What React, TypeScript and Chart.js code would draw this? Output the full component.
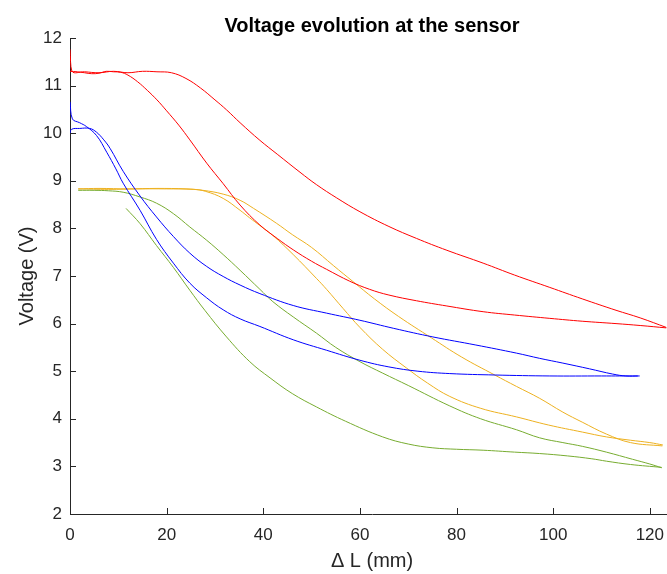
import React, { useEffect, useRef } from "react";
import { Chart, registerables } from "chart.js";

Chart.register(...registerables);

const TITLE = "Voltage evolution at the sensor";
const X_LABEL = "Δ L (mm)";
const Y_LABEL = "Voltage (V)";
const X_MIN = 0;
const X_MAX = 125;
const Y_MIN = 2;
const Y_MAX = 12;

const red1X = [0, 0.4, 3, 6, 9, 12, 15, 18, 21, 24, 27, 30, 32.4, 35.2, 39.3, 43, 47.6, 51, 55.2, 60, 66, 71.7, 78, 85.5, 92, 99.3, 106, 113, 118, 123.4];
const red1Y = [11.76, 11.3, 11.29, 11.27, 11.3, 11.27, 11.3, 11.29, 11.27, 11.15, 10.95, 10.7, 10.49, 10.22, 9.85, 9.55, 9.18, 8.92, 8.64, 8.35, 8.04, 7.79, 7.54, 7.27, 7.02, 6.76, 6.52, 6.28, 6.12, 5.92];

const red2X = [0, 1.5, 3, 4.5, 6, 7.5, 9, 10.5, 12, 14, 16, 18, 20, 22.5, 24.8, 28.3, 31.7, 35.2, 39.3, 43, 46.2, 50, 53.1, 57.9, 62, 66, 71.7, 78, 85.5, 92, 99.3, 106, 113, 118, 123.4];
const red2Y = [11.3, 11.29, 11.27, 11.25, 11.26, 11.3, 11.29, 11.28, 11.22, 11.08, 10.9, 10.7, 10.47, 10.17, 9.86, 9.37, 8.94, 8.49, 8.07, 7.78, 7.55, 7.31, 7.14, 6.89, 6.72, 6.6, 6.48, 6.37, 6.25, 6.18, 6.11, 6.05, 6.0, 5.96, 5.91];

const blue1X = [0, 0.5, 2, 3.4, 5.5, 7.6, 9.5, 11, 14.5, 17.9, 21.4, 24.8, 28.3, 31.7, 35.2, 39.3, 46.2, 53.1, 60, 66, 72, 78.6, 88, 99.3, 110, 117.5];
const blue1Y = [10.66, 10.3, 10.22, 10.14, 9.95, 9.6, 9.25, 8.95, 8.38, 7.77, 7.27, 6.85, 6.54, 6.29, 6.1, 5.94, 5.66, 5.44, 5.23, 5.09, 5.0, 4.95, 4.92, 4.9, 4.9, 4.9];

const blue2X = [0, 0.3, 2, 4.1, 5.5, 7, 8.3, 11, 14.5, 17.9, 21.4, 24.8, 28.3, 31.7, 35.2, 39.3, 46.2, 53.1, 60, 67, 75.1, 84, 92.4, 97.2, 102, 107.5, 112.3, 115, 117.9];
const blue2Y = [9.98, 10.08, 10.1, 10.1, 10.02, 9.86, 9.68, 9.2, 8.68, 8.24, 7.83, 7.48, 7.2, 6.99, 6.81, 6.63, 6.38, 6.22, 6.07, 5.9, 5.72, 5.55, 5.38, 5.27, 5.17, 5.05, 4.94, 4.9, 4.9];

const green1X = [1.7, 5, 8, 11, 14.5, 17.9, 21.4, 24.8, 28.3, 31.7, 35.2, 39.3, 42, 46.2, 51, 55, 60, 64.7, 70, 78.6, 85, 92.4, 97.2, 102, 106.1, 111, 116.4, 120, 122.5];
const green1Y = [8.8, 8.8, 8.79, 8.76, 8.66, 8.53, 8.31, 8.03, 7.75, 7.45, 7.12, 6.72, 6.46, 6.14, 5.8, 5.5, 5.2, 4.96, 4.7, 4.27, 4.0, 3.77, 3.6, 3.5, 3.42, 3.3, 3.15, 3.05, 2.97];

const green2X = [11.6, 14.5, 17.9, 21.4, 24.8, 27.9, 32.4, 37.2, 41.4, 46, 51, 57, 64.7, 70, 75.1, 80, 85.5, 92, 97.2, 103, 108, 111, 116, 122.4];
const green2Y = [8.42, 8.1, 7.64, 7.18, 6.7, 6.28, 5.72, 5.2, 4.86, 4.53, 4.25, 3.95, 3.62, 3.47, 3.39, 3.36, 3.34, 3.3, 3.27, 3.22, 3.16, 3.11, 3.04, 2.98];

const yellow1X = [1.7, 6, 12, 18, 24, 27.5, 31.7, 35.2, 38, 42.7, 46, 50, 54.5, 58.6, 63, 68, 74.8, 81, 87.9, 92.4, 97.2, 102, 106, 111, 116, 122.6];
const yellow1Y = [8.83, 8.84, 8.83, 8.84, 8.83, 8.8, 8.72, 8.59, 8.42, 8.11, 7.87, 7.6, 7.22, 6.88, 6.52, 6.15, 5.7, 5.3, 4.92, 4.68, 4.43, 4.14, 3.93, 3.68, 3.5, 3.43];

const yellow2X = [1.7, 8, 14, 20, 25.5, 28, 31.7, 35.2, 37.2, 39.3, 42, 46.2, 51, 53.1, 56.5, 60, 64.7, 69.6, 74, 78.6, 85, 92.4, 99, 106.1, 111, 116, 120, 122.7];
const yellow2Y = [8.83, 8.82, 8.83, 8.83, 8.82, 8.78, 8.63, 8.38, 8.22, 8.06, 7.85, 7.45, 6.95, 6.72, 6.32, 5.92, 5.46, 5.07, 4.75, 4.47, 4.22, 4.04, 3.87, 3.72, 3.62, 3.55, 3.5, 3.45];

const RED = "#FF0000";
const BLUE = "#0000FF";
const GREEN = "#77AC30";
const YELLOW = "#EDB120";
const AXIS = "#262626";
const FONT = "'Liberation Sans', Arial, Helvetica, sans-serif";

const toPts = (xs: number[], ys: number[]) => xs.map((x, i) => ({ x, y: ys[i] }));

const seriesList = [
  { xs: red1X, ys: red1Y, color: RED },
  { xs: red2X, ys: red2Y, color: RED },
  { xs: blue1X, ys: blue1Y, color: BLUE },
  { xs: blue2X, ys: blue2Y, color: BLUE },
  { xs: green1X, ys: green1Y, color: GREEN },
  { xs: green2X, ys: green2Y, color: GREEN },
  { xs: yellow1X, ys: yellow1Y, color: YELLOW },
  { xs: yellow2X, ys: yellow2Y, color: YELLOW },
];

const matlabAxes = {
  id: "matlabAxes",
  afterDraw(chart: any) {
    const { ctx, chartArea, scales } = chart;
    const xs = scales.x;
    const ys = scales.y;
    ctx.save();
    ctx.strokeStyle = AXIS;
    ctx.lineWidth = 1;
    ctx.beginPath();
    xs.ticks.forEach((t: any) => {
      const px = Math.round(xs.getPixelForValue(t.value)) + 0.5;
      ctx.moveTo(px, chartArea.bottom);
      ctx.lineTo(px, chartArea.bottom - 6);
    });
    ys.ticks.forEach((t: any) => {
      const py = Math.round(ys.getPixelForValue(t.value)) + 0.5;
      ctx.moveTo(chartArea.left, py);
      ctx.lineTo(chartArea.left + 6, py);
    });
    ctx.stroke();
    ctx.fillStyle = "#000000";
    ctx.font = `bold 20px ${FONT}`;
    ctx.textAlign = "center";
    ctx.textBaseline = "alphabetic";
    ctx.fillText(TITLE, (chartArea.left + chartArea.right) / 2, 32);
    ctx.restore();
  },
};

export default function App() {
  const ref = useRef<HTMLCanvasElement | null>(null);
  useEffect(() => {
    document.body.style.margin = "0";
    const canvas = ref.current;
    if (!canvas) return;
    const chart = new Chart(canvas, {
      type: "line",
      data: {
        datasets: seriesList.map((s) => ({
          data: toPts(s.xs, s.ys),
          borderColor: s.color,
          backgroundColor: s.color,
          borderWidth: 1,
          pointRadius: 0,
          fill: false,
          tension: 0.4,
        })),
      },
      options: {
        animation: false,
        responsive: false,
        devicePixelRatio: 1,
        layout: { padding: { top: 38, right: 6, left: 0, bottom: 0 } },
        plugins: {
          legend: { display: false },
          title: { display: false },
          tooltip: { enabled: false },
        },
        scales: {
          x: {
            type: "linear",
            min: X_MIN,
            max: X_MAX,
            grid: { display: false, drawTicks: false },
            border: { display: true, color: AXIS, width: 1 },
            ticks: {
              stepSize: 20,
              includeBounds: false,
              padding: 11,
              color: AXIS,
              font: { family: FONT, size: 17 },
              maxRotation: 0,
            },
            title: {
              display: true,
              text: X_LABEL,
              color: AXIS,
              font: { family: FONT, size: 20 },
              padding: { top: 0, bottom: 1 },
            },
            afterFit: (scale: any) => {
              scale.height = 60;
            },
          },
          y: {
            type: "linear",
            min: Y_MIN,
            max: Y_MAX,
            grid: { display: false, drawTicks: false },
            border: { display: true, color: AXIS, width: 1 },
            ticks: {
              stepSize: 1,
              padding: 8,
              color: AXIS,
              font: { family: FONT, size: 17 },
            },
            title: {
              display: true,
              text: Y_LABEL,
              color: AXIS,
              font: { family: FONT, size: 20 },
              padding: { top: 15, bottom: 0 },
            },
            afterFit: (scale: any) => {
              scale.width = 70;
            },
          },
        },
      },
      plugins: [matlabAxes],
    });
    return () => chart.destroy();
  }, []);

  return (
    <div
      style={{
        position: "fixed",
        left: 0,
        top: 0,
        width: 667,
        height: 574,
        overflow: "hidden",
        background: "#ffffff",
      }}
    >
      <canvas ref={ref} width={680} height={574} style={{ width: 680, height: 574, display: "block" }} />
    </div>
  );
}
